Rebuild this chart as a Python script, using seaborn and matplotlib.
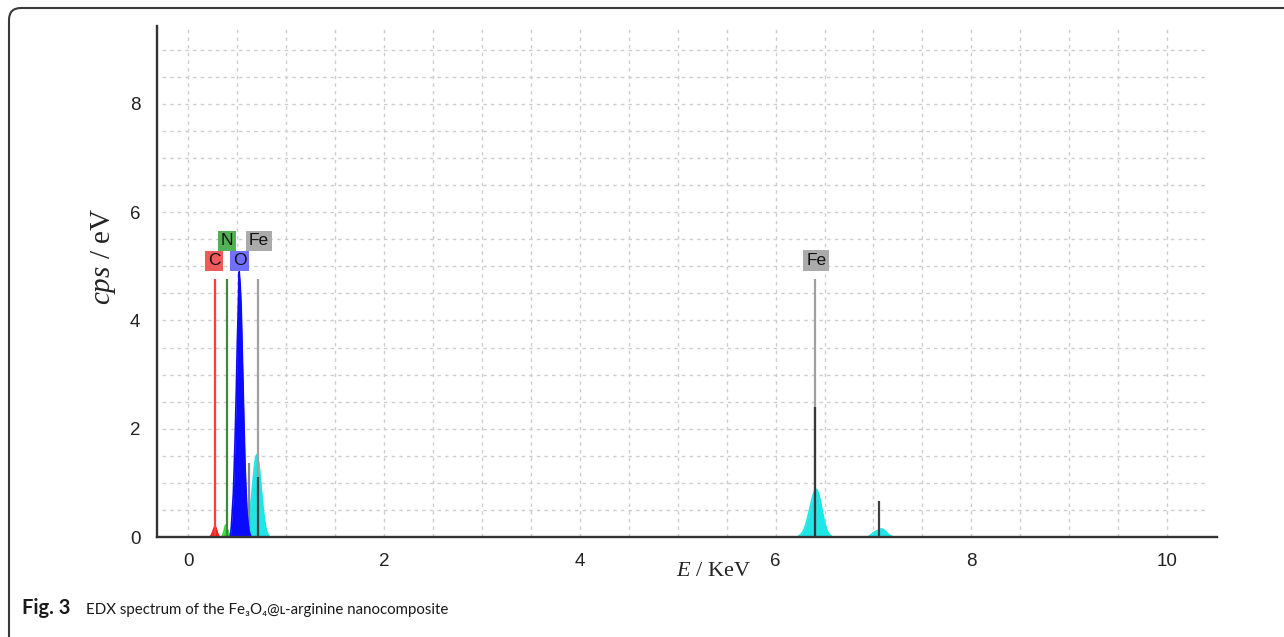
import numpy as np
import pandas as pd
import matplotlib
matplotlib.use("Agg")
import matplotlib.pyplot as plt
from matplotlib.patches import FancyBboxPatch
from matplotlib.transforms import IdentityTransform
import seaborn as sns

# ---------------- data ----------------
# spectrum fills (energy in keV, cps/eV)
c_energy = [0.22, 0.23, 0.24, 0.25, 0.26, 0.27, 0.28, 0.29, 0.30, 0.31, 0.32]
c_cps = [0.0, 0.02, 0.05, 0.09, 0.15, 0.19, 0.18, 0.12, 0.06, 0.02, 0.0]

n_energy = [0.34, 0.35, 0.36, 0.37, 0.38, 0.39, 0.40, 0.41, 0.42, 0.43, 0.44]
n_cps = [0.0, 0.03, 0.08, 0.15, 0.22, 0.20, 0.14, 0.08, 0.05, 0.06, 0.02]

o_energy = [0.43, 0.44, 0.45, 0.46, 0.47, 0.48, 0.49, 0.50, 0.51, 0.52,
            0.53, 0.54, 0.55, 0.56, 0.57, 0.58, 0.59, 0.60, 0.61, 0.62, 0.63, 0.64]
o_cps = [0.0, 0.2, 0.5, 0.8, 1.35, 1.95, 2.7, 3.55, 4.2, 4.9,
         4.65, 4.25, 3.5, 2.75, 2.0, 1.3, 0.85, 0.45, 0.25, 0.12, 0.05, 0.0]

fel_energy = [0.60, 0.61, 0.62, 0.63, 0.64, 0.65, 0.66, 0.67, 0.68, 0.69, 0.70, 0.71,
              0.72, 0.73, 0.74, 0.75, 0.76, 0.77, 0.78, 0.79, 0.80, 0.81, 0.82, 0.83]
fel_cps = [0.10, 0.18, 0.30, 0.45, 0.62, 0.82, 1.02, 1.20, 1.38, 1.48, 1.52, 1.45,
           1.36, 1.20, 1.00, 0.80, 0.60, 0.44, 0.30, 0.19, 0.11, 0.06, 0.03, 0.0]

feka_energy = [6.22, 6.24, 6.26, 6.28, 6.30, 6.32, 6.34, 6.36, 6.38, 6.40,
               6.42, 6.44, 6.46, 6.48, 6.50, 6.52, 6.54, 6.56, 6.58]
feka_cps = [0.0, 0.02, 0.05, 0.10, 0.18, 0.30, 0.45, 0.60, 0.76, 0.86,
            0.88, 0.80, 0.64, 0.45, 0.28, 0.15, 0.07, 0.03, 0.0]

fekb_energy = [6.94, 6.96, 6.98, 7.00, 7.02, 7.04, 7.06, 7.08, 7.10, 7.12, 7.14, 7.16, 7.18, 7.20]
fekb_cps = [0.0, 0.02, 0.05, 0.08, 0.10, 0.12, 0.13, 0.15, 0.14, 0.11, 0.07, 0.04, 0.02, 0.0]

# element marker lines and labels
marker_labels = ["C", "N", "O", "Fe", "Fe"]
marker_energy = [0.276, 0.40, 0.52, 0.715, 6.405]
marker_height = [4.76, 4.76, 4.76, 4.76, 4.76]
label_energy = [0.266, 0.398, 0.524, 0.723, 6.415]
label_level = [5.10, 5.47, 5.10, 5.47, 5.11]

# Fe family lines (relative intensities)
fe_line_energy = [0.618, 0.715, 6.405, 7.06]
fe_line_height = [1.37, 1.10, 2.41, 0.66]

x_major = [0, 2, 4, 6, 8, 10]
y_major = [0, 2, 4, 6, 8]

# ---------------- styling ----------------
sns.set_style("white")
plt.rcParams["font.family"] = ["Liberation Sans", "DejaVu Sans"]
plt.rcParams["mathtext.fontset"] = "custom"
plt.rcParams["mathtext.rm"] = "Liberation Serif"
plt.rcParams["mathtext.it"] = "Liberation Serif:italic"

W, H = 1284, 637
fig = plt.figure(figsize=(W / 100, H / 100), dpi=100)
fig.patch.set_facecolor("white")
ax = fig.add_axes([157 / W, 100 / H, (1217 - 157) / W, (537 - 26) / H])
ax.set_facecolor("white")
ax.set_xlim(-0.32, 10.51)
ax.set_ylim(0, 9.44)

# grid (dotted)
grid_kw = dict(color="#cdcdcd", linewidth=1.0, linestyle=(0, (2.5, 3)), zorder=0)
ax.vlines(np.arange(0, 10.01, 0.5), 0, 9.44, **grid_kw)
ax.hlines(np.arange(0.5, 9.01, 0.5), -0.27, 10.42, **grid_kw)

# spectrum fills
fills = [
    (c_energy, c_cps, "#ff1a1a", 3),
    (n_energy, n_cps, "#33dd33", 3),
    (fel_energy, fel_cps, "#1ee6e6", 3),
    (feka_energy, feka_cps, "#1ee6e6", 3),
    (fekb_energy, fekb_cps, "#1ee6e6", 3),
]
for e, v, col, z in fills:
    df = pd.DataFrame({"E": e, "cps": v})
    ax.fill_between(df["E"], 0, df["cps"], color=col, linewidth=0, zorder=z)
    sns.lineplot(data=df, x="E", y="cps", ax=ax, color=col, linewidth=1.2, zorder=z)

# marker lines
marker_colors = ["#ff3b3b", "#3c8a3c", "#2b2bff", "#a0a0a0", "#a0a0a0"]
for e, h, col in zip(marker_energy, marker_height, marker_colors):
    ax.vlines(e, 0, h, color=col, linewidth=1.6, zorder=4)

# Fe family lines
fe_colors = ["#8a8a8a", "#404040", "#383838", "#404040"]
for e, h, col in zip(fe_line_energy, fe_line_height, fe_colors):
    ax.vlines(e, 0, h, color=col, linewidth=1.6, zorder=5)

# O peak (on top)
df_o = pd.DataFrame({"E": o_energy, "cps": o_cps})
ax.fill_between(df_o["E"], 0, df_o["cps"], color="#0a0aff", linewidth=0, zorder=6)
sns.lineplot(data=df_o, x="E", y="cps", ax=ax, color="#0a0aff", linewidth=1.2, zorder=6)

# labels
box_colors = ["#f05a5a", "#52b152", "#7070ff", "#ababab", "#ababab"]
for lab, e, lv, bc in zip(marker_labels, label_energy, label_level, box_colors):
    ax.text(e, lv, lab, ha="center", va="center", fontsize=12.5, color="#111111",
            family=["Liberation Sans", "DejaVu Sans"], zorder=7,
            bbox=dict(boxstyle="square,pad=0.16", fc=bc, ec="none"))

# axes style
for s in ["top", "right"]:
    ax.spines[s].set_visible(False)
for s in ["left", "bottom"]:
    ax.spines[s].set_color("#333333")
    ax.spines[s].set_linewidth(1.7)
    ax.spines[s].set_zorder(8)

ax.set_xticks(x_major)
ax.set_xticks(np.arange(-0.0, 10.51, 0.5), minor=True)
ax.set_yticks(y_major)
ax.set_yticks(np.arange(0, 9.01, 0.5), minor=True)
ax.set_xticklabels([str(v) for v in x_major])
ax.set_yticklabels([str(v) for v in y_major])
ax.tick_params(axis="x", which="major", direction="out", length=8, width=1.6,
               color="#333333", pad=3.5, labelsize=13.5, labelcolor="#222222")
ax.tick_params(axis="x", which="minor", direction="out", length=4.5, width=1.5,
               color="#333333")
ax.tick_params(axis="y", which="major", direction="out", length=10, width=1.6,
               color="#333333", pad=2, labelsize=13.5, labelcolor="#222222")
ax.tick_params(axis="y", which="minor", direction="out", length=6, width=1.5,
               color="#333333")
ax.set_xlabel("")
ax.set_ylabel("")

# axis titles
fig.text(103 / W, 1 - 256 / H, r"$cps$ / eV", rotation=90, ha="center", va="center",
         fontsize=21, family="Liberation Serif", color="#222222")
fig.text(713 / W, 1 - 572 / H, r"$E$ / KeV", ha="center", va="center",
         fontsize=16, family="Liberation Serif", color="#222222")

# caption
cap_family = ["Lato", "DejaVu Sans"]
fig.text(22 / W, 1 - 614 / H, "Fig. 3", ha="left", va="baseline", fontsize=14.5,
         fontweight="bold", family=cap_family, color="#1a1a1a")
fig.text(86 / W, 1 - 614 / H, "EDX spectrum of the Fe\u2083O\u2084@\u029f-arginine nanocomposite",
         ha="left", va="baseline", fontsize=10.8, family=cap_family, color="#1a1a1a")

# rounded frame
frame = FancyBboxPatch((9, -40), W + 40, H - 8 + 40,
                       boxstyle="round,pad=0,rounding_size=12",
                       transform=IdentityTransform(), fill=False,
                       ec="#3a3a3a", lw=1.5)
fig.patches.append(frame)

fig.savefig("out.png", dpi=100, facecolor="white")
